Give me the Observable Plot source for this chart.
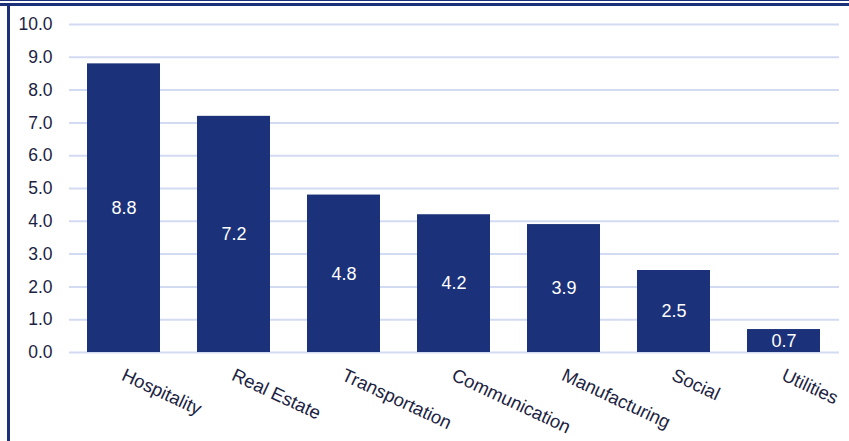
<!DOCTYPE html>
<html>
<head>
<meta charset="utf-8">
<script src="https://cdn.jsdelivr.net/npm/d3@7"></script>
<script src="https://cdn.jsdelivr.net/npm/@observablehq/plot@0.6"></script>
<style>
  html, body { margin: 0; padding: 0; background: #fff; }
  #wrap { position: relative; width: 849px; height: 441px; overflow: hidden; }
  .line { position: absolute; background: #1b3179; }
</style>
</head>
<body>
<div id="wrap">
  <div id="chart"></div>
  <div class="line" style="left:0;top:0;width:849px;height:1px;"></div>
  <div class="line" style="left:0;top:3px;width:849px;height:3px;"></div>
  <div class="line" style="left:7px;top:3px;width:3px;height:438px;"></div>
</div>
<script>
const categories = ["Hospitality", "Real Estate", "Transportation", "Communication", "Manufacturing", "Social", "Utilities"];
const values = [8.8, 7.2, 4.8, 4.2, 3.9, 2.5, 0.7];
const yTicks = [0, 1, 2, 3, 4, 5, 6, 7, 8, 9, 10];

const data = categories.map((c, i) => ({category: c, value: values[i]}));
const barColor = "#1b3179";
const textColor = "#1c2342";

const chart = Plot.plot({
  width: 849,
  height: 441,
  marginLeft: 69,
  marginRight: 10,
  marginTop: 24,
  marginBottom: 89,
  style: {fontFamily: "'Liberation Sans', Arial, sans-serif", fontSize: "18px", color: textColor, background: "transparent"},
  x: {domain: categories, paddingInner: 0.335, paddingOuter: 0.1675, axis: null},
  y: {domain: [0, 10], ticks: yTicks, axis: null},
  marks: [
    Plot.gridY(yTicks, {stroke: "#d3dbf3", strokeOpacity: 1, strokeWidth: 2}),
    Plot.axisY(yTicks, {tickSize: 0, tickPadding: 17, tickFormat: d => d.toFixed(1), fill: textColor, fontSize: 17.5, label: null}),
    Plot.barY(data, {x: "category", y: "value", fill: barColor}),
    Plot.text(data, {x: "category", y: d => d.value / 2, text: d => d.value.toFixed(1), fill: "white", fontSize: 18}),
    Plot.text(data, {x: "category", y: 0, text: "category", rotate: 25, textAnchor: "start", lineAnchor: "top", dy: 15, dx: 2, fill: textColor, fontSize: 18.5})
  ]
});
document.getElementById("chart").appendChild(chart);
</script>
</body>
</html>
